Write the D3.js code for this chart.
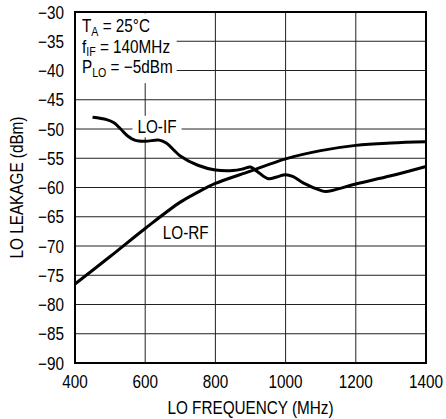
<!DOCTYPE html>
<html>
<head>
<meta charset="utf-8">
<script src="https://cdn.jsdelivr.net/npm/d3@7"></script>
<style>
  body { margin: 0; background: #fff; }
  text { font-family: "Liberation Sans", Arial, sans-serif; fill: #000; }
</style>
</head>
<body>
<svg width="446" height="419"></svg>
<script>
// data
let xTicks = [400, 600, 800, 1000, 1200, 1400];
let yTicks = [-90, -85, -80, -75, -70, -65, -60, -55, -50, -45, -40, -35, -30];

let ifFreq = [450, 490, 510, 530, 550, 570, 600, 640, 660, 700, 750, 800, 850, 880, 900, 920, 950, 975, 1000, 1020, 1050, 1100, 1115, 1200, 1300, 1400];
let ifLeak = [-48, -48.4, -48.9, -50, -51.2, -51.9, -52.1, -51.9, -52.4, -54.6, -56.2, -57, -57.1, -56.8, -56.5, -57.3, -58.5, -58.2, -57.8, -58.1, -59.2, -60.5, -60.7, -59.4, -58, -56.4];

let rfFreq = [400, 500, 600, 700, 750, 800, 900, 1000, 1100, 1200, 1300, 1400];
let rfLeak = [-76.5, -71.8, -67, -62.5, -60.8, -59.3, -57.2, -55.1, -53.7, -52.8, -52.4, -52.2];

let svg = d3.select("svg");
let mLeft = 75, mRight = 426, mTop = 12, mBottom = 363;
let squeeze = 0.85; // the original uses a condensed face

let x = d3.scaleLinear().domain([400, 1400]).range([mLeft, mRight]);
let y = d3.scaleLinear().domain([-90, -30]).range([mBottom, mTop]);

let fmt = d => d < 0 ? "\u2212" + Math.abs(d) : String(d);
let at = (px, py) => "translate(" + px + "," + py + ") scale(" + squeeze + ",1)";

// grid
svg.append("g").selectAll("line").data(xTicks.slice(1, -1)).enter().append("line")
  .attr("x1", d => x(d)).attr("x2", d => x(d))
  .attr("y1", mTop).attr("y2", mBottom)
  .attr("stroke", "#222").attr("stroke-width", 1);
svg.append("g").selectAll("line").data(yTicks.slice(1, -1)).enter().append("line")
  .attr("x1", mLeft).attr("x2", mRight)
  .attr("y1", d => y(d)).attr("y2", d => y(d))
  .attr("stroke", "#222").attr("stroke-width", 1);

// tick labels
svg.append("g").selectAll("text").data(yTicks).enter().append("text")
  .attr("transform", d => at(mLeft - 11, y(d) + 6.5))
  .attr("text-anchor", "end").attr("font-size", 18)
  .text(fmt);
svg.append("g").selectAll("text").data(xTicks).enter().append("text")
  .attr("transform", d => at(x(d), mBottom + 25))
  .attr("text-anchor", "middle").attr("font-size", 18)
  .text(fmt);

// axis titles
svg.append("text")
  .attr("transform", at((mLeft + mRight) / 2, 414))
  .attr("text-anchor", "middle").attr("font-size", 18)
  .text("LO FREQUENCY (MHz)");
svg.append("text")
  .attr("transform", "translate(23," + (mTop + mBottom) / 2 + ") rotate(-90) scale(" + squeeze + ",1)")
  .attr("text-anchor", "middle").attr("font-size", 18)
  .text("LO LEAKAGE (dBm)");

// curves
let line = d3.line()
  .x(d => x(d[0])).y(d => y(d[1]))
  .curve(d3.curveCatmullRom.alpha(0.5));

svg.append("path")
  .datum(d3.zip(rfFreq, rfLeak))
  .attr("d", line)
  .attr("fill", "none").attr("stroke", "#000").attr("stroke-width", 3);
svg.append("path")
  .datum(d3.zip(ifFreq, ifLeak))
  .attr("d", line)
  .attr("fill", "none").attr("stroke", "#000").attr("stroke-width", 3);

// curve labels, LO-IF sits on a white patch over the grid
let ifLbl = svg.append("g");
ifLbl.append("text")
  .attr("transform", at(x(578), y(-50) + 4))
  .attr("font-size", 18).text("LO-IF");
let ib = ifLbl.node().getBBox();
ifLbl.insert("rect", ":first-child")
  .attr("x", ib.x - 5).attr("y", ib.y - 1)
  .attr("width", ib.width + 10).attr("height", ib.height + 1)
  .attr("fill", "#fff");

svg.append("text")
  .attr("transform", at(x(650), y(-65) + 22))
  .attr("font-size", 18).text("LO-RF");

// conditions block
let cond = svg.append("g");
let rows = [["T", "A", " = 25\u00B0C"], ["f", "IF", " = 140MHz"], ["P", "LO", " = \u22125dBm"]];
cond.selectAll("text").data(rows).enter().append("text")
  .attr("transform", (d, i) => at(mLeft + 7, 32 + i * 20.5))
  .attr("font-size", 18)
  .each(function(d) {
    let t = d3.select(this);
    t.append("tspan").text(d[0]);
    t.append("tspan").attr("dy", 3.5).attr("font-size", 12.5).text(d[1]);
    t.append("tspan").attr("dy", -3.5).text(d[2]);
  });
let cb = cond.node().getBBox();
cond.insert("rect", ":first-child")
  .attr("x", mLeft + 1).attr("y", mTop + 1.5)
  .attr("width", cb.x + cb.width + 4 - mLeft - 1).attr("height", cb.y + cb.height + 3 - mTop)
  .attr("fill", "#fff");

// frame
svg.append("rect")
  .attr("x", mLeft).attr("y", mTop)
  .attr("width", mRight - mLeft).attr("height", mBottom - mTop)
  .attr("fill", "none").attr("stroke", "#000").attr("stroke-width", 2);
</script>
</body>
</html>
